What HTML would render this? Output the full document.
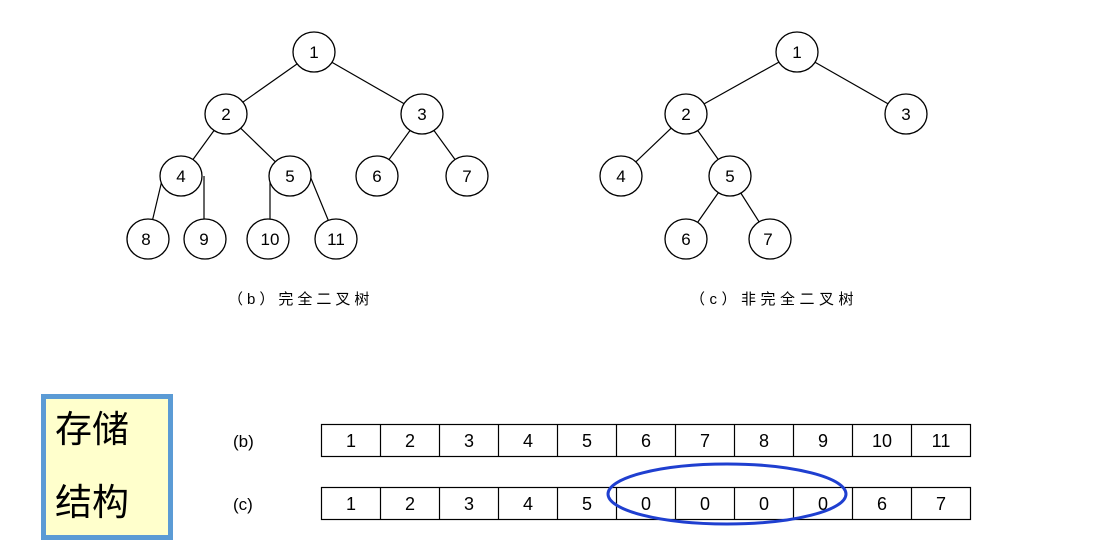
<!DOCTYPE html>
<html><head><meta charset="utf-8"><style>
body{margin:0;background:#fff;width:1099px;height:547px;overflow:hidden;position:relative;font-family:"Liberation Sans","Noto Sans CJK SC",sans-serif}
</style></head><body>
<svg width="1099" height="547" style="position:absolute;left:0;top:0">
<g stroke="#000" stroke-width="1.2" fill="none">
<line x1="314" y1="52" x2="226" y2="114"/><line x1="314" y1="52" x2="422" y2="114"/>
<line x1="226" y1="114" x2="181" y2="176"/><line x1="226" y1="114" x2="290" y2="176"/>
<line x1="422" y1="114" x2="377" y2="176"/><line x1="422" y1="114" x2="467" y2="176"/>
<line x1="163" y1="176" x2="148" y2="239"/><line x1="204" y1="176" x2="204" y2="239"/>
<line x1="270" y1="176" x2="270" y2="239"/><line x1="310" y1="176" x2="336" y2="239"/>
<line x1="797" y1="52" x2="686" y2="114"/><line x1="797" y1="52" x2="906" y2="114"/>
<line x1="686" y1="114" x2="621" y2="176"/><line x1="686" y1="114" x2="730" y2="176"/>
<line x1="730" y1="176" x2="686" y2="239"/><line x1="730" y1="176" x2="770" y2="239"/>
</g>
<g stroke="#000" stroke-width="1.3" fill="#fff">
<ellipse cx="314" cy="52" rx="21" ry="20"/><ellipse cx="226" cy="114" rx="21" ry="20"/><ellipse cx="422" cy="114" rx="21" ry="20"/>
<ellipse cx="181" cy="176" rx="21" ry="20"/><ellipse cx="290" cy="176" rx="21" ry="20"/><ellipse cx="377" cy="176" rx="21" ry="20"/><ellipse cx="467" cy="176" rx="21" ry="20"/>
<ellipse cx="148" cy="239" rx="21" ry="20"/><ellipse cx="205" cy="239" rx="21" ry="20"/><ellipse cx="268" cy="239" rx="21" ry="20"/><ellipse cx="336" cy="239" rx="21" ry="20"/>
<ellipse cx="797" cy="52" rx="21" ry="20"/><ellipse cx="686" cy="114" rx="21" ry="20"/><ellipse cx="906" cy="114" rx="21" ry="20"/>
<ellipse cx="621" cy="176" rx="21" ry="20"/><ellipse cx="730" cy="176" rx="21" ry="20"/><ellipse cx="686" cy="239" rx="21" ry="20"/><ellipse cx="770" cy="239" rx="21" ry="20"/>
</g>
<g font-size="17" text-anchor="middle" fill="#000">
<text x="314" y="58">1</text><text x="226" y="120">2</text><text x="422" y="120">3</text>
<text x="181" y="182">4</text><text x="290" y="182">5</text><text x="377" y="182">6</text><text x="467" y="182">7</text>
<text x="146" y="245">8</text><text x="204" y="245">9</text><text x="270" y="245">10</text><text x="336" y="245">11</text>
<text x="797" y="58">1</text><text x="686" y="120">2</text><text x="906" y="120">3</text>
<text x="621" y="182">4</text><text x="730" y="182">5</text><text x="686" y="245">6</text><text x="768" y="245">7</text>
</g>
<g font-size="15" fill="#000">
<text x="228" y="304" letter-spacing="4">（b）完全二叉树</text>
<text x="690" y="304" letter-spacing="4.5">（c）非完全二叉树</text>
</g>
<rect x="43.5" y="396.5" width="127" height="141" fill="#ffffcc" stroke="#5b9bd5" stroke-width="5"/>
<g font-size="37" fill="#000"><text x="55" y="442">存储</text><text x="55" y="515">结构</text></g>
<g font-size="17" fill="#000"><text x="233" y="447">(b)</text><text x="233" y="510">(c)</text></g>
<g stroke="#000" stroke-width="1.2" fill="none">
<rect x="321.5" y="424.5" width="649" height="32"/><rect x="321.5" y="487.5" width="649" height="32"/>
</g>
<g stroke="#000" stroke-width="1.2">
<line x1="380.5" y1="424" x2="380.5" y2="457"/><line x1="439.5" y1="424" x2="439.5" y2="457"/><line x1="498.5" y1="424" x2="498.5" y2="457"/><line x1="557.5" y1="424" x2="557.5" y2="457"/><line x1="616.5" y1="424" x2="616.5" y2="457"/><line x1="675.5" y1="424" x2="675.5" y2="457"/><line x1="734.5" y1="424" x2="734.5" y2="457"/><line x1="793.5" y1="424" x2="793.5" y2="457"/><line x1="852.5" y1="424" x2="852.5" y2="457"/><line x1="911.5" y1="424" x2="911.5" y2="457"/>
<line x1="380.5" y1="487" x2="380.5" y2="520"/><line x1="439.5" y1="487" x2="439.5" y2="520"/><line x1="498.5" y1="487" x2="498.5" y2="520"/><line x1="557.5" y1="487" x2="557.5" y2="520"/><line x1="616.5" y1="487" x2="616.5" y2="520"/><line x1="675.5" y1="487" x2="675.5" y2="520"/><line x1="734.5" y1="487" x2="734.5" y2="520"/><line x1="793.5" y1="487" x2="793.5" y2="520"/><line x1="852.5" y1="487" x2="852.5" y2="520"/><line x1="911.5" y1="487" x2="911.5" y2="520"/>
</g>
<g font-size="18" fill="#000" text-anchor="middle">
<text x="351" y="447">1</text><text x="410" y="447">2</text><text x="469" y="447">3</text><text x="528" y="447">4</text><text x="587" y="447">5</text><text x="646" y="447">6</text><text x="705" y="447">7</text><text x="764" y="447">8</text><text x="823" y="447">9</text><text x="882" y="447">10</text><text x="941" y="447">11</text>
<text x="351" y="510">1</text><text x="410" y="510">2</text><text x="469" y="510">3</text><text x="528" y="510">4</text><text x="587" y="510">5</text><text x="646" y="510">0</text><text x="705" y="510">0</text><text x="764" y="510">0</text><text x="823" y="510">0</text><text x="882" y="510">6</text><text x="941" y="510">7</text>
</g>
<ellipse cx="727" cy="494" rx="119" ry="30" fill="none" stroke="#1f3fd0" stroke-width="3"/>
</svg>
</body></html>
